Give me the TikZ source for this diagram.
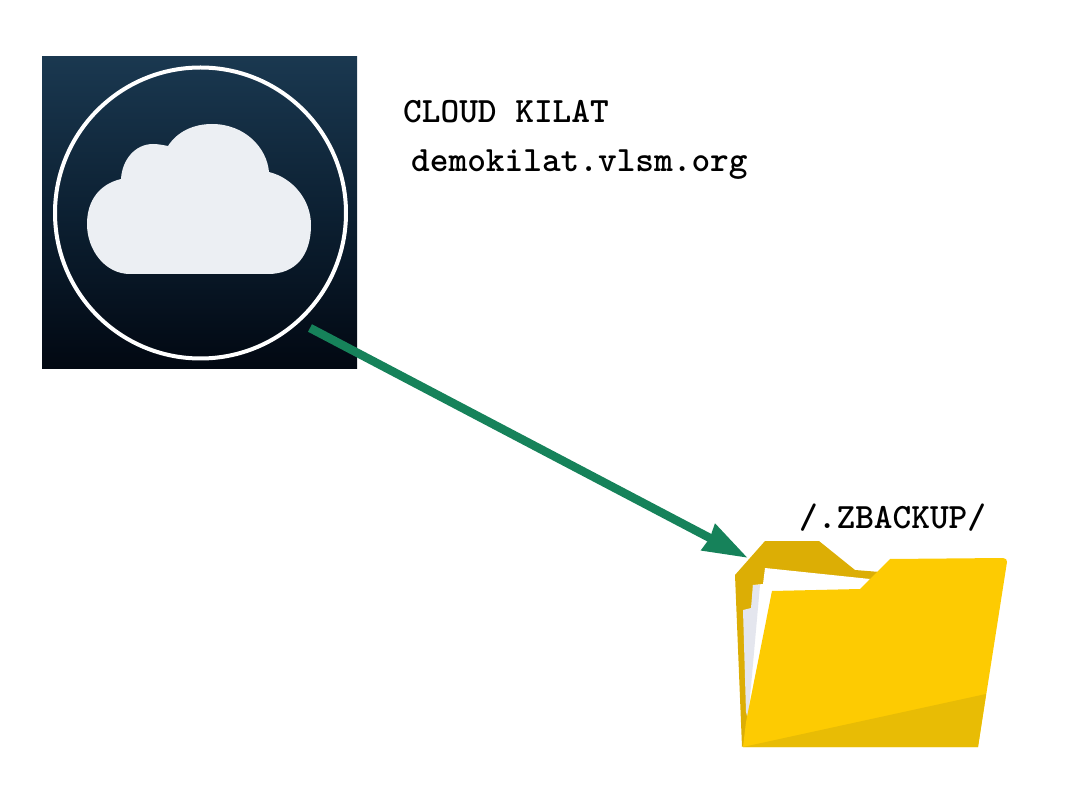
\documentclass[tikz,border=0pt]{standalone}
\usepackage{xcolor}
\usepackage{tikz}
\usetikzlibrary{arrows.meta,positioning}

\definecolor{arrowgreen}{RGB}{22,130,90}
\definecolor{boxtop}{RGB}{26,56,80}
\definecolor{boxmid}{RGB}{12,32,50}
\definecolor{boxbottom}{RGB}{2,8,18}
\definecolor{cloudwhite}{RGB}{236,239,243}
\definecolor{folderback}{RGB}{220,174,5}
\definecolor{folderfront}{RGB}{253,203,2}
\definecolor{foldershade}{RGB}{232,188,5}
\definecolor{papergrey}{RGB}{228,230,238}

\begin{document}
\begin{tikzpicture}[
  x=1pt,y=-1pt,
  >={Stealth[length=44pt,width=28pt,inset=1pt]},
  every node/.style={font=\fontsize{35.6}{38}\selectfont\ttfamily\bfseries, text=black, inner sep=0pt},
  textlabel/.style={anchor=base west}
]
\useasboundingbox (0,0) rectangle (1080,802);

% cloud icon
\node (cloudbox) [rectangle, minimum width=315pt, minimum height=312pt,
  top color=boxtop, bottom color=boxbottom, middle color=boxmid] at (199.5,213) {};
\node (cloudring) [circle, draw=white, line width=4pt, minimum size=291pt] at (200.5,213) {};
\fill[cloudwhite] (130,274) .. controls (105,274) and (87,250) .. (87,224)
  .. controls (87,200) and (100,184) .. (121,179)
  .. controls (122,160) and (135,144) .. (153,144)
  .. controls (158,144) and (163,145) .. (168,146)
  .. controls (177,132) and (193,124) .. (212,124)
  .. controls (245,124) and (267,148) .. (269,172)
  .. controls (293,178) and (311,200) .. (311,225)
  .. controls (311,255) and (296,274) .. (268,274) -- cycle;

% labels
\node (cloudname) [textlabel] at (403,123) {CLOUD KILAT};
\node (cloudhost) [textlabel] at (411,172) {demokilat.vlsm.org};
\node (foldername) [textlabel] at (799,528) {/.ZBACKUP/};

% folder
\fill[folderback] (735,575) -- (765,541) -- (819,541) -- (855,570) -- (880,572)
  -- (880,600) -- (750,740) -- (742,747) -- cycle;
\fill[white] (753,585) -- (763,584) -- (765,568) -- (870,579) -- (860,592) -- (772,592)
  -- (748,720) -- cycle;
\fill[papergrey] (743,610) -- (751,608) -- (753,585) -- (760,585) -- (748,720) -- (746,712) -- cycle;
\fill[folderfront] (772,591) -- (860,589) -- (890,559) -- (1003,558)
  .. controls (1006,558) and (1007,560) .. (1007,562)
  -- (978,747) -- (743,747) -- (746,722) -- cycle;
\fill[foldershade] (743,747) -- (986,694) -- (978,747) -- cycle;

\coordinate (arrowstart) at (310,328);
\coordinate (foldercorner) at (748,558);

\draw[->, draw=arrowgreen, line width=8.5pt] (arrowstart) -- (foldercorner);
\end{tikzpicture}
\end{document}
